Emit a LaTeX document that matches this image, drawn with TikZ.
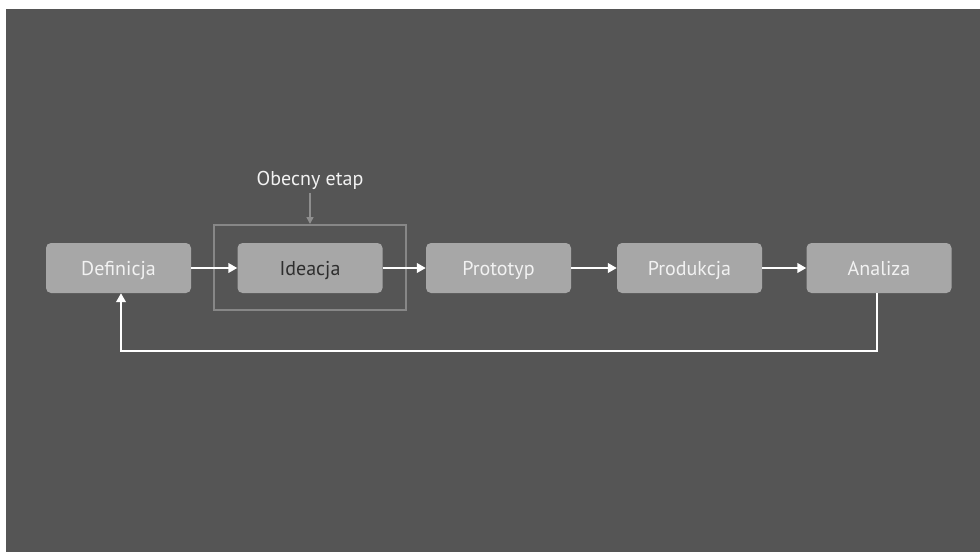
\documentclass[tikz,border=0pt]{standalone}
\usepackage{fontspec}
\setmainfont{PT Sans}
\usetikzlibrary{arrows.meta,calc}
\definecolor{bg}{HTML}{555555}
\definecolor{boxfill}{HTML}{A7A7A7}
\definecolor{boxtext}{HTML}{F2F2F2}
\definecolor{curtext}{HTML}{2E2E2E}
\definecolor{framegray}{HTML}{878787}
\definecolor{pointer}{HTML}{8E8E8E}
\tikzset{
  stage/.style={fill=boxfill, rounded corners=5pt, minimum width=145pt, minimum height=50pt, inner sep=0pt, text height=14pt, text depth=0pt, text=boxtext, font=\fontsize{20}{24}\selectfont},
  flow/.style={draw=white, line width=2.4pt, -{Triangle[length=9pt,width=9.5pt]}},
  curframe/.style={draw=framegray, line width=2pt},
}
\begin{document}
\begin{tikzpicture}[x=1pt,y=-1pt]
\useasboundingbox (0,0) rectangle (980,552);
\fill[white] (0,0) rectangle (980,552);
\fill[bg] (6,9) rectangle (980,552);
\node[stage] (def) at (118.5,268) {Definicja};
\node[stage, text=curtext] (ide) at (310,268) {Ideacja};
\node[stage] (pro) at (498.5,268) {Prototyp};
\node[stage] (prd) at (689.5,268) {Produkcja};
\node[stage] (ana) at (879,268) {Analiza};
\node[curframe, minimum width=192pt, minimum height=85pt, inner sep=0pt] (frm) at (310,267.5) {};
\node[text=boxtext, font=\fontsize{20}{24}\selectfont, inner sep=0pt, anchor=base] (lbl) at (310,185) {Obecny etap};
\draw[draw=pointer, line width=1.6pt, -{Triangle[length=7pt,width=7pt]}] (lbl.south) ++(0,4) -- (frm.north);
\draw[flow] (def) -- (ide);
\draw[flow] (ide) -- (pro);
\draw[flow] (pro) -- (prd);
\draw[flow] (prd) -- (ana);
\coordinate (br) at ($(ana.south)+(-2,58)$);
\coordinate (bl) at ($(def.south)+(2.5,58)$);
\draw[flow] (ana.south -| br) -- (br) -- (bl) -- (bl |- def.south);
\end{tikzpicture}
\end{document}
